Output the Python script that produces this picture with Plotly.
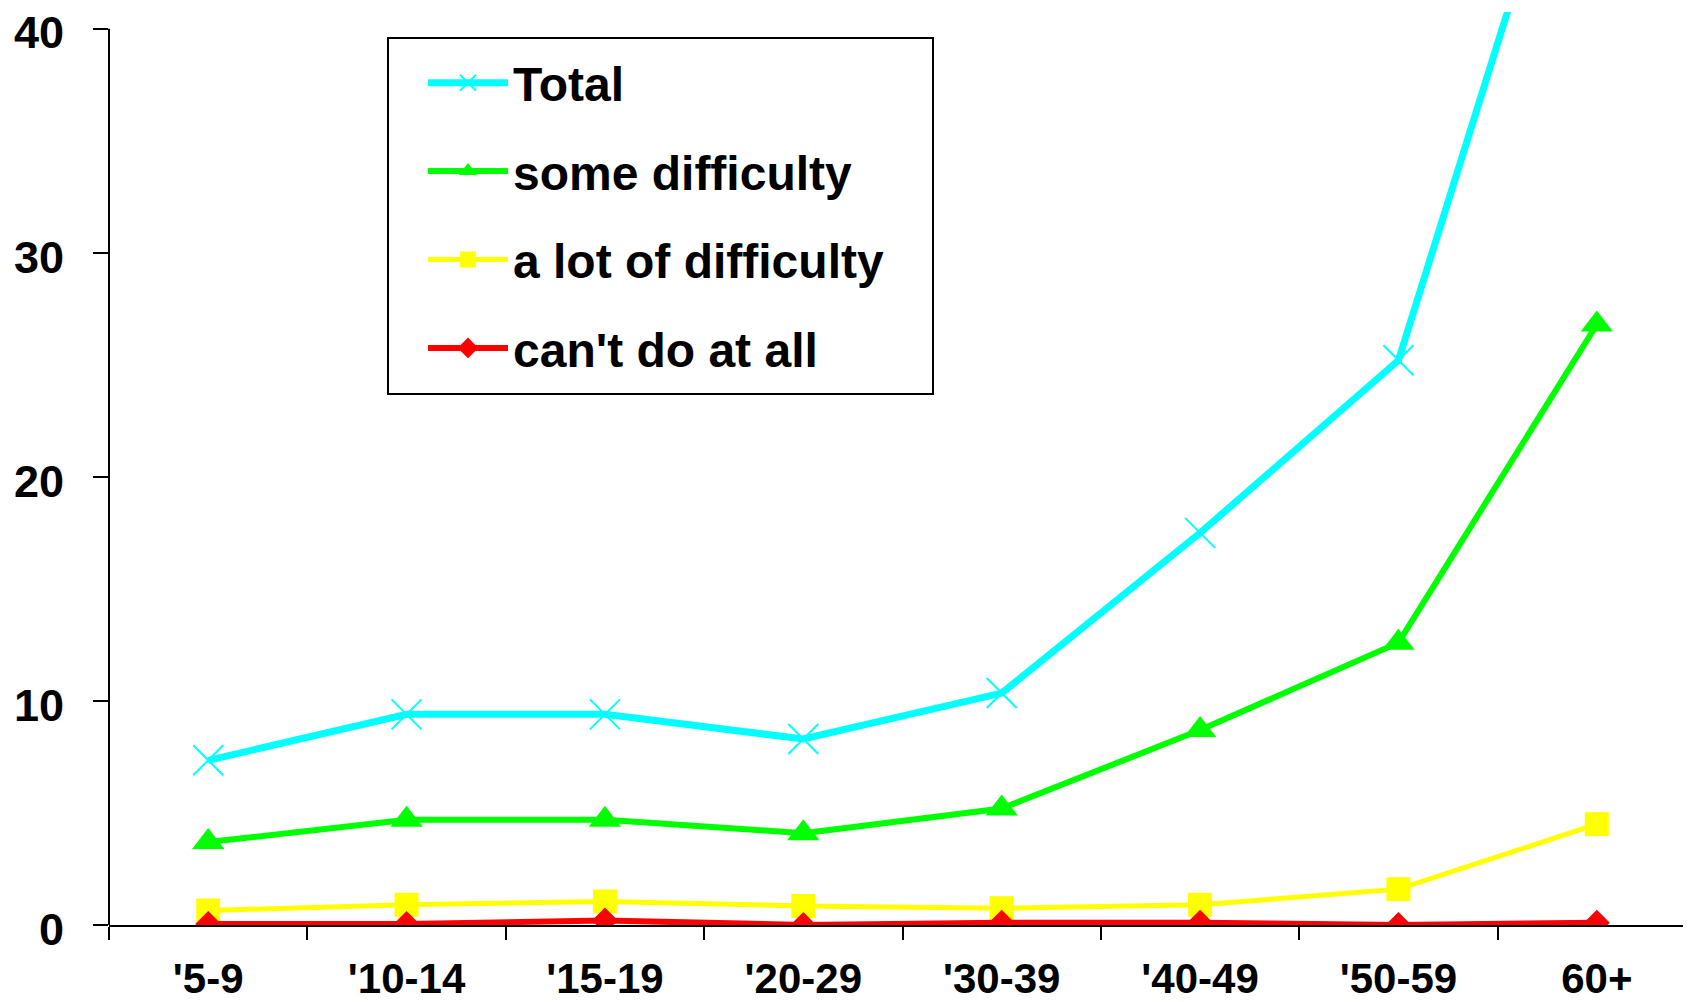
import plotly.graph_objects as go

categories = ["'5-9", "'10-14", "'15-19", "'20-29", "'30-39", "'40-49", "'50-59", "60+"]
total = [7.35, 9.4, 9.4, 8.3, 10.35, 17.5, 25.2, 53.5]
some_difficulty = [3.7, 4.7, 4.7, 4.1, 5.2, 8.7, 12.6, 26.8]
lot_of_difficulty = [0.65, 0.9, 1.05, 0.85, 0.75, 0.9, 1.6, 4.5]
cant_do = [0.05, 0.05, 0.2, 0.0, 0.1, 0.1, 0.0, 0.1]
y_ticks = [0, 10, 20, 30, 40]

FONT = "Liberation Sans, Arial, sans-serif"

series = [
    ("Total", total, "#00FFFF", 7, dict(symbol="x-thin", size=30, line=dict(width=2, color="#00FFFF"))),
    ("some difficulty", some_difficulty, "#00FF00", 6, dict(symbol="triangle-up", size=28)),
    ("a lot of difficulty", lot_of_difficulty, "#FFFF00", 5, dict(symbol="square", size=24)),
    ("can't do at all", cant_do, "#FF0000", 6, dict(symbol="diamond", size=20)),
]

fig = go.Figure()
for name, vals, color, lw, mk in series:
    fig.add_trace(go.Scatter(
        x=categories, y=vals, name=name, mode="lines+markers",
        line=dict(color=color, width=lw),
        marker=dict(color=color, **mk),
        legendgroup=name,
    ))

# plot area: left 101 px, right 1688 px, top 4 px, bottom 917 px
ymax = 40 * 913 / 896.3

def px_x(p):
    return (p - 101) / 1587

def px_y(p):
    return (917 - p) / 913

fig.update_layout(
    width=1691, height=1002,
    margin=dict(l=101, r=3, t=4, b=85, autoexpand=False),
    paper_bgcolor="white", plot_bgcolor="white",
    font=dict(family=FONT, color="black"),
    showlegend=True,
    legend=dict(
        x=px_x(415), y=px_y(37), xanchor="left", yanchor="top",
        bgcolor="rgba(0,0,0,0)", borderwidth=0,
        font=dict(family=FONT, size=48, color="black", weight="bold"),
        traceorder="grouped", tracegroupgap=23, itemwidth=80,
    ),
    xaxis=dict(
        type="category", tickson="boundaries", ticks="outside", ticklen=13, tickwidth=2,
        tickcolor="black", showline=True, linewidth=2, linecolor="black",
        showgrid=False, zeroline=False, automargin=False,
        tickfont=dict(family=FONT, size=42, color="black", weight="bold"),
        ticklabelstandoff=16,
        range=[-0.5, len(categories) - 0.5],
    ),
    yaxis=dict(
        range=[0, ymax], tickvals=y_ticks, ticks="outside", ticklen=15, tickwidth=2,
        tickcolor="black", showline=False, showgrid=False, zeroline=False, automargin=False,
        tickfont=dict(family=FONT, size=45, color="black", weight="bold"),
        ticklabelstandoff=20, ticklabeloverflow="allow", ticklabelshift=4,
    ),
    shapes=[
        dict(type="line", xref="paper", yref="y", x0=0, x1=0, y0=0, y1=y_ticks[-1],
             line=dict(color="black", width=2), layer="above"),
        dict(type="rect", xref="paper", yref="paper",
             x0=px_x(380), x1=px_x(925), y0=px_y(386), y1=px_y(30),
             line=dict(color="black", width=2), fillcolor="white", layer="below"),
    ],
)

fig.write_html("out.html")
